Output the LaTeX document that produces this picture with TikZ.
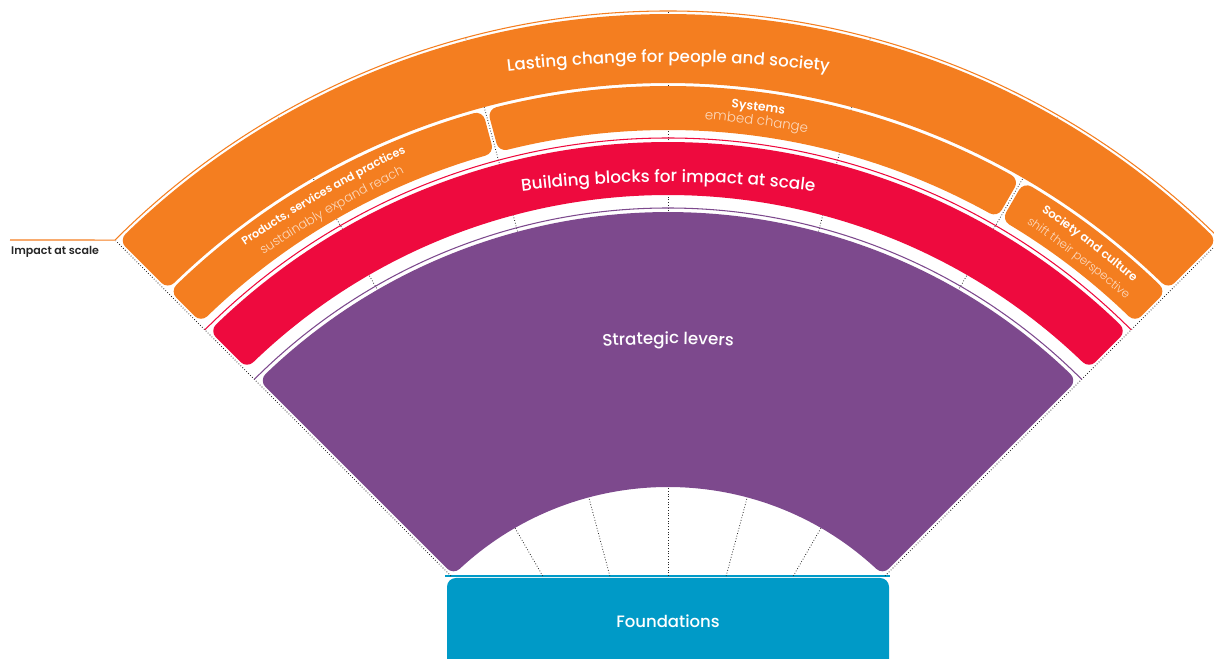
\documentclass[tikz,border=0pt]{standalone}
\usepackage{fontspec}
\setmainfont{Poppins}
\IfFontExistsTF{Poppins Light}{\newfontfamily\lightfont{Poppins Light}}{\newfontfamily\lightfont{Poppins}}
\IfFontExistsTF{Poppins Medium}{\newfontfamily\mediumfont{Poppins Medium}}{\newfontfamily\mediumfont{Poppins}}
\IfFontExistsTF{Poppins SemiBold}{\newfontfamily\semifont{Poppins SemiBold}}{\newfontfamily\semifont{Poppins Bold}}
\usetikzlibrary{decorations.text}

\definecolor{lcorange}{HTML}{F47E20}
\definecolor{lcred}{HTML}{EE0A3E}
\definecolor{lcpurple}{HTML}{7D498D}
\definecolor{lcteal}{HTML}{009AC7}
\colorlet{lcpale}{white!72!lcorange}

\tikzstyle{ray} = [dash pattern=on 0.45pt off 1.1pt, line width=0.45pt, black!85]
\tikzstyle{rim} = [line width=0.6pt]
\tikzstyle{bandfill} = [line width=0.36cm, line join=round]

% band: inner r, outer r, left angle, right angle, colour
\newcommand\band[5]{%
  \pgfmathsetmacro\ri{#1+9}\pgfmathsetmacro\ro{#2-9}
  \pgfmathsetmacro\ai{#3-deg(11.5/\ri)}\pgfmathsetmacro\ao{#3-deg(11.5/\ro)}
  \pgfmathsetmacro\bi{#4+deg(11.5/\ri)}\pgfmathsetmacro\bo{#4+deg(11.5/\ro)}
  \filldraw[bandfill, #5] (\ao:\ro) arc[start angle=\ao, end angle=\bo, radius=\ro]
    -- (\bi:\ri) arc[start angle=\bi, end angle=\ai, radius=\ri] -- cycle;}

% text on a flat arc: angle, baseline r, format, text
\newcommand\arclabel[4]{%
  \pgfmathsetmacro\tr{1.9*#2}
  \path[decorate, decoration={text along path, text align=center, text={|#3|#4}}]
    (#1:{#2-\tr}) ++(#1+25:\tr) arc[start angle=#1+25, end angle=#1-25, radius=\tr];}

\begin{document}
\begin{tikzpicture}[x=0.02cm, y=0.02cm]
\useasboundingbox (0,0) rectangle (1214,659);
\clip (0,0) rectangle (1214,659);

\fill[lcteal, rounded corners=5pt] (447,-30) rectangle (889,81);
\node[text=white, font=\mediumfont\fontsize{9.4}{11}\selectfont] (found) at (668,38) {Foundations};
\node[anchor=west, text=black!85, font=\semifont\fontsize{6.3}{8}\selectfont] (impact) at (5,407) {Impact at scale};

\begin{scope}[shift={(668,-134)}]
\draw[rim, lcteal] (-223,217) -- (222,217);
\foreach \a in {45,60,...,135}
  \draw[ray] (\a:{217/sin(\a)}) -- (\a:781);

\band{306}{581}{135}{45}{lcpurple}
\band{598}{651}{135}{45}{lcred}
\band{663}{707}{135}{105}{lcorange}
\band{663}{707}{105}{60}{lcorange}
\band{663}{707}{60}{45}{lcorange}
\band{710}{779}{135}{45}{lcorange}

\draw[rim, lcorange] (-658,553) -- (135:782) arc[start angle=135, end angle=40, radius=782];
\draw[rim, lcred] (135:655) arc[start angle=135, end angle=45, radius=655];
\draw[rim, lcpurple] (135:585) arc[start angle=135, end angle=45, radius=585];

\arclabel{90}{731}{\mediumfont\fontsize{9.5}{11}\selectfont\color{white}}{Lasting change for people and society}
\arclabel{90}{611}{\mediumfont\fontsize{9.6}{11}\selectfont\color{white}}{Building blocks for impact at scale}
\arclabel{90}{449}{\mediumfont\fontsize{9.5}{11}\selectfont\color{white}}{Strategic levers}
\arclabel{120}{689}{\semifont\fontsize{6.4}{8}\selectfont\color{white}}{Products, services and practices}
\arclabel{120}{671}{\lightfont\fontsize{7.2}{8}\selectfont\color{lcpale}}{sustainably expand reach}
\arclabel{82.5}{688}{\semifont\fontsize{7}{8}\selectfont\color{white}}{Systems}
\arclabel{82.5}{674}{\lightfont\fontsize{7.6}{8}\selectfont\color{lcpale}}{embed change}
\arclabel{52.5}{690}{\semifont\fontsize{6.7}{8}\selectfont\color{white}}{Society and culture}
\arclabel{52.5}{672}{\lightfont\fontsize{6.7}{8}\selectfont\color{lcpale}}{shift their perspective}
\end{scope}
\end{tikzpicture}
\end{document}
